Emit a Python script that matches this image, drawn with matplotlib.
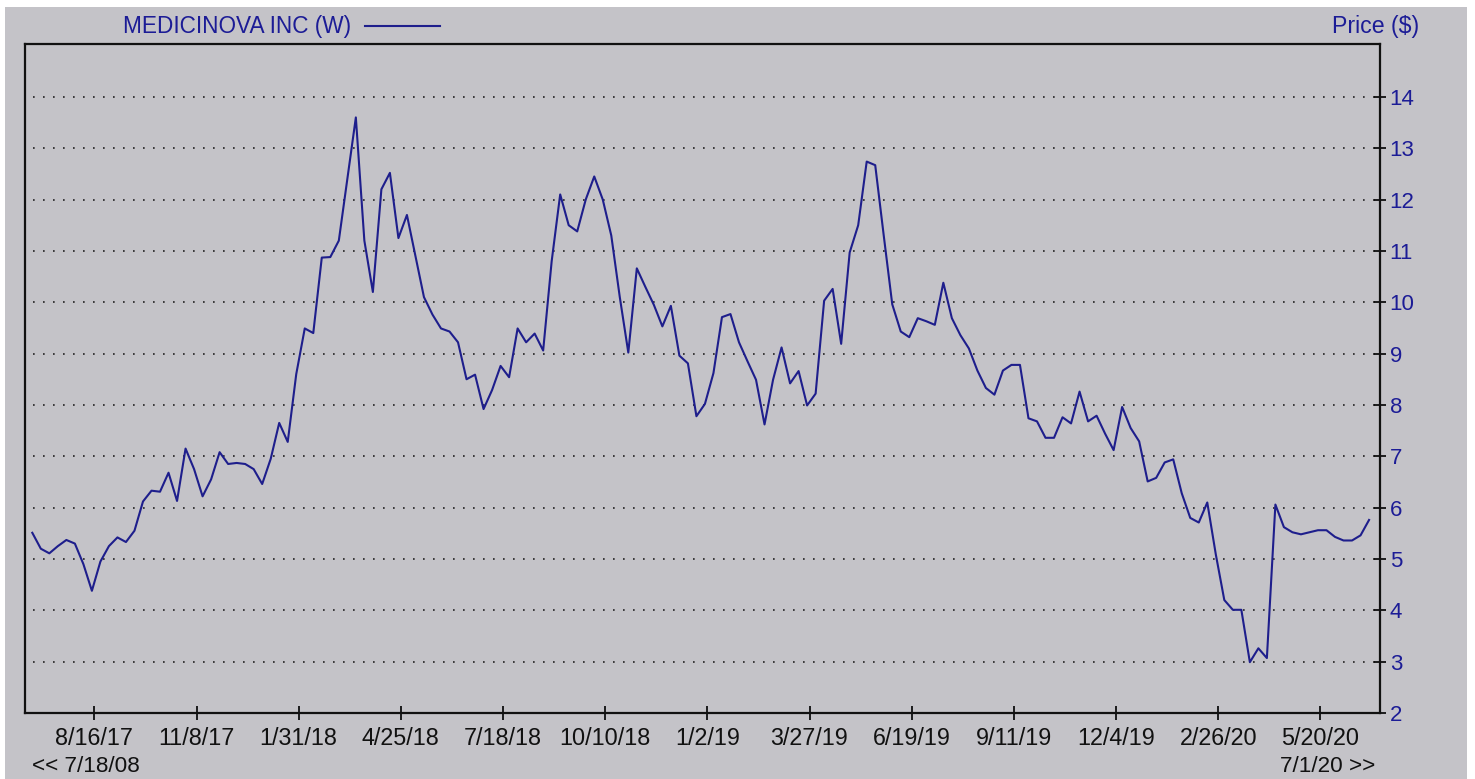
import matplotlib
matplotlib.use("Agg")
import matplotlib.pyplot as plt
from matplotlib import font_manager
from matplotlib.lines import Line2D
from matplotlib.patches import Rectangle
import datetime as dt

# ---------------- data ----------------
title = "MEDICINOVA INC (W)"
axis_label = "Price ($)"
start_date = dt.date(2017, 6, 26)          # first weekly point
prices = [
    5.51, 5.20, 5.11, 5.25, 5.37, 5.30, 4.90, 4.38, 4.95, 5.25,
    5.42, 5.33, 5.55, 6.12, 6.33, 6.31, 6.68, 6.13, 7.15, 6.75,
    6.22, 6.55, 7.08, 6.85, 6.87, 6.85, 6.75, 6.46, 6.95, 7.65,
    7.28, 8.60, 9.49, 9.40, 10.87, 10.88, 11.20, 12.40, 13.60, 11.20,
    10.20, 12.20, 12.52, 11.25, 11.70, 10.90, 10.10, 9.76, 9.49, 9.43,
    9.22, 8.50, 8.59, 7.92, 8.29, 8.76, 8.54, 9.49, 9.22, 9.39,
    9.06, 10.80, 12.10, 11.50, 11.38, 12.00, 12.45, 12.00, 11.30, 10.10,
    9.02, 10.66, 10.30, 9.95, 9.53, 9.93, 8.96, 8.81, 7.78, 8.02,
    8.62, 9.71, 9.77, 9.22, 8.85, 8.49, 7.62, 8.49, 9.12, 8.42,
    8.66, 7.99, 8.22, 10.03, 10.26, 9.19, 10.97, 11.50, 12.74, 12.67,
    11.30, 9.96, 9.43, 9.32, 9.69, 9.63, 9.56, 10.38, 9.69, 9.36,
    9.10, 8.67, 8.33, 8.20, 8.67, 8.78, 8.78, 7.74, 7.68, 7.36,
    7.36, 7.76, 7.64, 8.26, 7.68, 7.79, 7.44, 7.12, 7.96, 7.55,
    7.29, 6.51, 6.58, 6.88, 6.94, 6.28, 5.80, 5.71, 6.10, 5.09,
    4.20, 4.01, 4.01, 2.99, 3.26, 3.07, 6.06, 5.62, 5.52, 5.48,
    5.52, 5.56, 5.56, 5.43, 5.36, 5.36, 5.46, 5.76,
]
tick_labels = ["8/16/17", "11/8/17", "1/31/18", "4/25/18", "7/18/18", "10/10/18",
               "1/2/19", "3/27/19", "6/19/19", "9/11/19", "12/4/19", "2/26/20", "5/20/20"]
y_ticks = [2, 3, 4, 5, 6, 7, 8, 9, 10, 11, 12, 13, 14]
range_start_label = "<< 7/18/08"
range_end_label = "7/1/20 >>"

dates = [start_date + dt.timedelta(weeks=i) for i in range(len(prices))]
tick_dates = [dt.datetime.strptime(s, "%m/%d/%y").date() for s in tick_labels]

# ---------------- fonts / colours ----------------
names = {f.name for f in font_manager.fontManager.ttflist}
FONT = "Liberation Sans" if "Liberation Sans" in names else "DejaVu Sans"
BG = "#c4c3c8"
BLUE = "#1c1c96"
LINE = "#1e1e8c"

W, H = 1475, 779
fig = plt.figure(figsize=(W / 100, H / 100), dpi=100)
fig.patch.set_facecolor("white")
fig.add_artist(Rectangle((5 / W, 0), (1467 - 5) / W, (H - 7) / H,
                         transform=fig.transFigure, facecolor=BG, edgecolor="none", zorder=-10))

left, right, top, bottom = 25, 1380, 44, 713
ax = fig.add_axes([left / W, (H - bottom) / H, (right - left) / W, (bottom - top) / H])
ax.set_facecolor(BG)

ax.plot(dates, prices, color=LINE, linewidth=1.5, zorder=3)

ax.set_xlim(dt.date(2017, 6, 20), dt.date(2020, 7, 8))
ax.set_ylim(2, 15.03)

ax.yaxis.tick_right()
ax.set_yticks(y_ticks)
ax.set_yticklabels([str(v) for v in y_ticks], fontfamily=FONT, fontsize=16, color=BLUE)
ax.set_xticks(tick_dates)
ax.set_xticklabels(tick_labels, fontfamily=FONT, fontsize=16.8, color="#111111")

ax.tick_params(axis="y", direction="inout", length=8, width=1.2, pad=3, right=True, left=False)
ax.tick_params(axis="x", direction="inout", length=10, width=1.2, pad=5)

for s in ax.spines.values():
    s.set_linewidth(1.6)
    s.set_color("#111111")

for v in y_ticks[1:]:
    ax.axhline(v, xmin=0.006, xmax=1, color="#222222", linewidth=1.2,
               linestyle=(0, (1, 5)), zorder=1)

# header legend and axis title
fig.text(123 / W, (H - 26) / H, title, fontfamily=FONT, fontsize=16.3,
         color=BLUE, ha="left", va="center")
fig.add_artist(Line2D([365 / W, 440 / W], [(H - 26) / H, (H - 26) / H],
                      transform=fig.transFigure, color=LINE, linewidth=1.5))
fig.text(1419 / W, (H - 26) / H, axis_label, fontfamily=FONT, fontsize=16.7,
         color=BLUE, ha="right", va="center")

# range labels
fig.text(32 / W, (H - 766) / H, range_start_label, fontfamily=FONT, fontsize=16.2,
         color="#111111", ha="left", va="center")
fig.text(1375 / W, (H - 766) / H, range_end_label, fontfamily=FONT, fontsize=16.2,
         color="#111111", ha="right", va="center")

fig.savefig("out.png", dpi=100, facecolor=fig.get_facecolor())
